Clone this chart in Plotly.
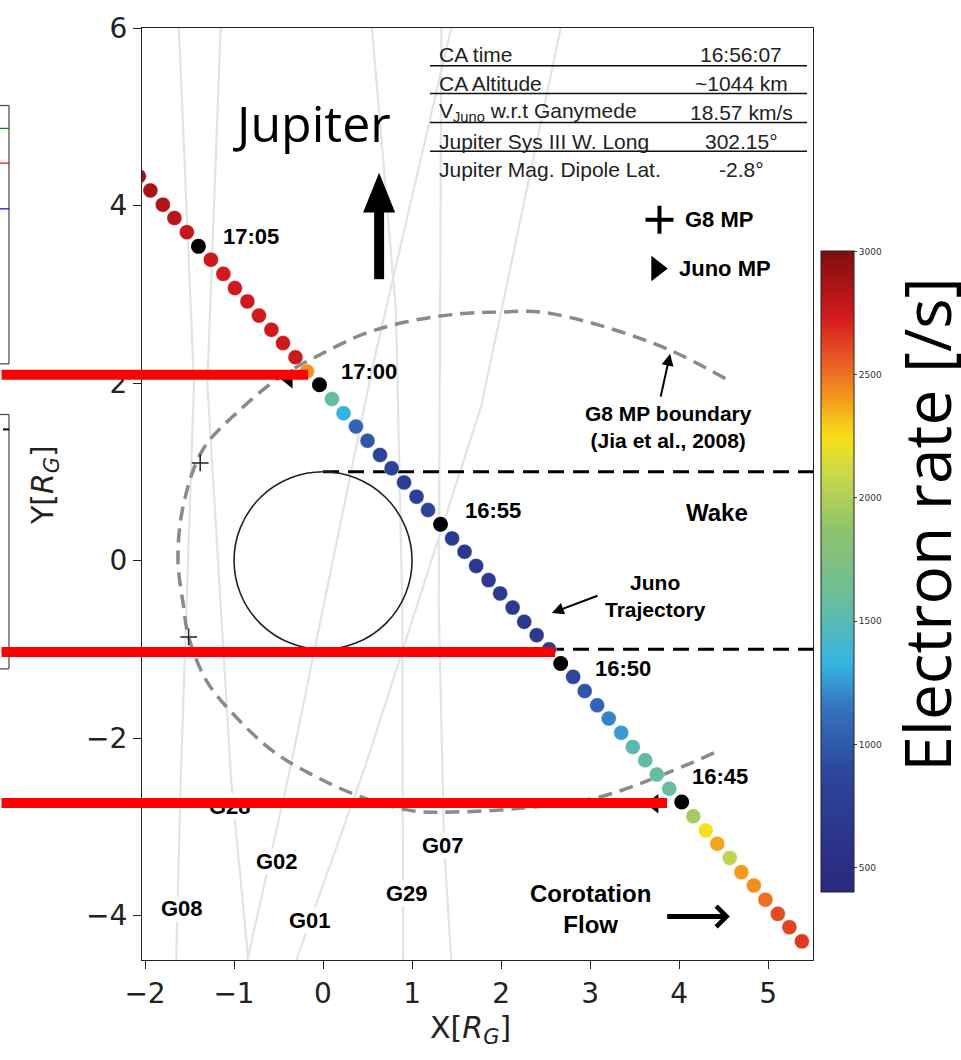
import plotly.graph_objects as go

# ---------------- data ----------------
# Juno trajectory, 30 s cadence, 16:40:00 -> 17:07:30
traj_x = [5.38, 5.24, 5.11, 4.97, 4.84, 4.70, 4.57, 4.43, 4.30, 4.16,
          4.03, 3.89, 3.75, 3.62, 3.48, 3.35, 3.21, 3.08, 2.94, 2.81,
          2.67, 2.54, 2.40, 2.26, 2.13, 1.99, 1.86, 1.72, 1.59, 1.45,
          1.32, 1.18, 1.05, 0.91, 0.77, 0.64, 0.50, 0.37, 0.23, 0.10,
          -0.04, -0.18, -0.31, -0.45, -0.58, -0.72, -0.85, -0.99, -1.12, -1.26,
          -1.40, -1.53, -1.67, -1.80, -1.94, -2.07]
traj_y = [-4.29, -4.13, -3.98, -3.82, -3.66, -3.51, -3.35, -3.19, -3.04, -2.88,
          -2.72, -2.57, -2.41, -2.25, -2.10, -1.94, -1.78, -1.63, -1.47, -1.31,
          -1.16, -1.00, -0.84, -0.69, -0.53, -0.37, -0.22, -0.06, 0.10, 0.25,
          0.41, 0.57, 0.72, 0.88, 1.04, 1.19, 1.35, 1.51, 1.66, 1.82,
          1.98, 2.13, 2.29, 2.45, 2.60, 2.76, 2.92, 3.07, 3.23, 3.39,
          3.54, 3.70, 3.86, 4.01, 4.17, 4.33]
electron_rate = [2650, 2620, 2600, 2500, 2430, 2400, 2060, 2380, 2230, 1960,
                 None, 1580, 1560, 1550, 1500, 1260, 1200, 1060, 980, 880,
                 None, 760, 720, 700, 700, 690, 700, 680, 670, 700,
                 None, 850, 780, 740, 790, 830, 980, 1060, 1330, 1560,
                 None, 2420, 2760, 2760, 2750, 2740, 2760, 2750, 2740, 2760,
                 None, 2780, 2820, 2850, 2870, 2900]
time_mark_idx = [10, 20, 30, 40, 50]
time_mark_labels = ["16:45", "16:50", "16:55", "17:00", "17:05"]
time_label_x = [4.12, 3.03, 1.57, 0.18, -1.15]
time_label_y = [-2.43, -1.22, 0.56, 2.13, 3.65]

# G8 magnetopause boundary (Jia et al., 2008)
mp_x = [4.52, 3.90, 3.11, 2.44, 1.99, 1.54, 0.94, 0.45, -0.07, -0.48, -0.93, -1.35,
        -1.57, -1.63, -1.57, -1.51, -1.30, -0.97, -0.56, -0.07, 0.45, 1.01, 1.57,
        2.33, 3.08, 3.75, 4.43]
mp_y = [2.05, 2.37, 2.65, 2.80, 2.80, 2.78, 2.69, 2.55, 2.30, 2.07, 1.70, 1.25,
        0.62, 0.02, -0.50, -0.86, -1.37, -1.77, -2.15, -2.44, -2.67, -2.82, -2.83,
        -2.78, -2.67, -2.44, -2.15]
g8_mp_x = [-1.38, -1.51]
g8_mp_y = [1.10, -0.86]
juno_mp_x = [-0.39, 3.72]
juno_mp_y = [2.05, -2.74]

# Galileo flyby tracks
flyby_names = ["G08", "G28", "G02", "G01", "G29", "G07"]
flyby_x = [[-1.62, -1.45, -1.60, -1.65],
           [-1.15, -1.30, -1.03, -0.84],
           [1.44, 0.56, -0.36, -0.85],
           [2.67, 1.78, 0.48, -0.30],
           [0.55, 0.82, 0.89, 0.90],
           [1.33, 1.30, 1.36, 1.44]]
flyby_y = [[6.0, 2.0, -2.5, -4.5],
           [6.0, 2.0, -2.5, -4.5],
           [6.0, 2.2, -2.3, -4.5],
           [6.0, 1.75, -2.3, -4.5],
           [6.0, 2.8, -0.5, -4.5],
           [6.0, -0.5, -3.2, -4.5]]
flyby_label_x = [-1.58, -1.045, -0.52, -0.15, 0.94, 1.35]
flyby_label_y = [-3.92, -2.77, -3.39, -4.05, -3.75, -3.21]

wake_y = [1.0, -1.0]
wake_x = [0.0, 5.6]

table_labels = ["CA time", "CA Altitude", "V<sub>Juno</sub> w.r.t Ganymede",
                "Jupiter Sys III W. Long", "Jupiter Mag. Dipole Lat."]
table_values = ["16:56:07", "~1044 km", "18.57 km/s", "302.15°", "-2.8°"]

x_ticks = [-2, -1, 0, 1, 2, 3, 4, 5]
y_ticks = [-4, -2, 0, 2, 4, 6]
cbar_ticks = [500, 1000, 1500, 2000, 2500, 3000]

colorscale = [[0.0, "#2a2a7e"], [0.077, "#2b3388"], [0.19, "#2c479c"],
              [0.29, "#3476c0"], [0.358, "#35b4e0"], [0.46, "#6cbd9a"],
              [0.565, "#8fc36a"], [0.654, "#cad948"], [0.71, "#f8e017"],
              [0.77, "#f39a1e"], [0.83, "#e85a26"], [0.896, "#d51a1e"],
              [1.0, "#7d0f0f"]]

# ---------------- layout geometry ----------------
W, H = 961, 1060
L, R, T, B = 142, 813, 22, 960
PW, PH = R - L, B - T


def pxp(xp, yp):
    return (xp - L) / PW, (B - yp) / PH


BOLD = "Liberation Sans, Arial, sans-serif"
SEGOE = "Open Sans, Noto Sans, sans-serif"
DV = "DejaVu Sans, sans-serif"

fig = go.Figure()

for fx, fy in zip(flyby_x, flyby_y):
    fig.add_trace(go.Scatter(x=fx, y=fy, mode="lines",
                             line=dict(color="#e3e3e3", width=2.2),
                             hoverinfo="skip", showlegend=False))

fig.add_trace(go.Scatter(x=mp_x, y=mp_y, mode="lines",
                         line=dict(color="#8a8a8a", width=3.5, dash="14px,8px", shape="spline"),
                         showlegend=False))

for wy in wake_y:
    fig.add_trace(go.Scatter(x=wake_x, y=[wy, wy], mode="lines",
                             line=dict(color="black", width=3, dash="16px,9px"),
                             showlegend=False))

cx = [x for x, r in zip(traj_x, electron_rate) if r is not None]
cy = [y for y, r in zip(traj_y, electron_rate) if r is not None]
cr = [r for r in electron_rate if r is not None]
fig.add_trace(go.Scatter(
    x=cx, y=cy, mode="markers", showlegend=False,
    marker=dict(size=15, color=cr, colorscale=colorscale, cmin=400, cmax=3000,
                line=dict(color="rgba(255,255,255,0.5)", width=0.8),
                showscale=True,
                colorbar=dict(x=pxp(821, 0)[0], xanchor="left", xpad=0, ypad=0,
                              y=pxp(0, 892)[1], yanchor="bottom",
                              len=(892 - 247) / PH, lenmode="fraction",
                              thickness=33, outlinecolor="#222", outlinewidth=1,
                              tickvals=cbar_ticks, ticks="outside", ticklen=3,
                              tickcolor="#444",
                              tickfont=dict(size=9, color="#333", family=DV)))))

fig.add_trace(go.Scatter(x=[traj_x[i] for i in time_mark_idx],
                         y=[traj_y[i] for i in time_mark_idx],
                         mode="markers", marker=dict(size=15, color="black"),
                         showlegend=False))

fig.add_trace(go.Scatter(x=g8_mp_x, y=g8_mp_y, mode="markers",
                         marker=dict(symbol="cross-thin", size=12,
                                     line=dict(color="#222", width=1.5)),
                         showlegend=False))
fig.add_trace(go.Scatter(x=juno_mp_x, y=juno_mp_y, mode="markers",
                         marker=dict(symbol="triangle-left", size=17, color="black"),
                         showlegend=False))

# key symbols
fig.add_trace(go.Scatter(x=[3.78], y=[3.84], mode="markers",
                         marker=dict(symbol="cross-thin", size=20,
                                     line=dict(color="black", width=4)),
                         showlegend=False))
fig.add_trace(go.Scatter(x=[3.75], y=[3.29], mode="markers",
                         marker=dict(symbol="triangle-right", size=22, color="black"),
                         showlegend=False))

shapes = []
# Ganymede
shapes.append(dict(type="circle", xref="x", yref="y", x0=-1, y0=-1, x1=1, y1=1,
                   line=dict(color="#222", width=1.6)))
# Jupiter arrow
shapes.append(dict(type="line", xref="x", yref="y", x0=0.63, x1=0.63, y0=3.17, y1=3.96,
                   line=dict(color="black", width=10)))
shapes.append(dict(type="path", xref="x", yref="y",
                   path="M 0.45,3.92 L 0.81,3.92 L 0.63,4.37 Z",
                   fillcolor="black", line=dict(color="black", width=0)))

# table lines
for ly in [60, 88, 117, 146]:
    x0, y0 = pxp(430, ly)
    x1, _ = pxp(807, ly)
    shapes.append(dict(type="line", xref="paper", yref="paper", x0=x0, x1=x1, y0=y0, y1=y0,
                       line=dict(color="#111", width=1.5)))


# fragments of neighbouring panels at the left edge
def seg(xa, ya, xb, yb, color, width=1.2):
    pa = pxp(xa, ya)
    pb = pxp(xb, yb)
    shapes.append(dict(type="line", xref="paper", yref="paper", x0=pa[0], y0=pa[1],
                       x1=pb[0], y1=pb[1], line=dict(color=color, width=width)))


seg(9, 100, 9, 360, "#444")
seg(0, 100, 9, 100, "#444")
seg(0, 360, 9, 360, "#444")
seg(0, 123, 9, 123, "green")
seg(0, 158, 9, 158, "red")
seg(0, 204, 9, 204, "blue")
seg(9, 411, 9, 667, "#444")
seg(0, 411, 9, 411, "#444")
seg(0, 667, 9, 667, "#444")
seg(3, 426, 9, 426, "black", 2)

annotations = []


def txt(x, y, text, size=22, font=BOLD, xanchor="center", yanchor="middle",
        xref="x", yref="y", color="black", bg=None, angle=0):
    d = dict(x=x, y=y, xref=xref, yref=yref, text=text, showarrow=False,
             xanchor=xanchor, yanchor=yanchor, textangle=angle,
             font=dict(size=size, family=font, color=color))
    if bg:
        d["bgcolor"] = bg
        d["borderpad"] = 0
    annotations.append(d)


for lab, lx, ly in zip(time_mark_labels, time_label_x, time_label_y):
    txt(lx, ly, f"<b>{lab}</b>", xanchor="left")

for name, lx, ly in zip(flyby_names, flyby_label_x, flyby_label_y):
    txt(lx, ly, f"<b>{name}</b>", bg="white")

txt(-0.124, 4.93, "Jupiter", size=50, font=SEGOE)
txt(4.04, 3.84, "<b>G8 MP</b>", xanchor="left", size=22)
txt(3.98, 3.29, "<b>Juno MP</b>", xanchor="left", size=22)
txt(3.88, 1.50, "<b>G8 MP boundary<br>(Jia et al., 2008)</b>", size=21)
txt(4.43, 0.54, "<b>Wake</b>", size=24)
txt(3.73, -0.40, "<b>Juno<br>Trajectory</b>", size=21)
txt(3.0, -3.93, "<b>Corotation<br>Flow</b>", size=24)

# arrows
annotations.append(dict(x=3.90, y=2.33, ax=3.79, ay=1.83, xref="x", yref="y",
                        axref="x", ayref="y", showarrow=True, arrowhead=2,
                        arrowsize=1.2, arrowwidth=2, arrowcolor="black", text=""))
annotations.append(dict(x=2.57, y=-0.59, ax=3.10, ay=-0.39, xref="x", yref="y",
                        axref="x", ayref="y", showarrow=True, arrowhead=2,
                        arrowsize=1.2, arrowwidth=2, arrowcolor="black", text=""))
annotations.append(dict(x=4.57, y=-4.01, ax=3.85, ay=-4.01, xref="x", yref="y",
                        axref="x", ayref="y", showarrow=True, arrowhead=4,
                        arrowsize=0.8, arrowwidth=5, arrowcolor="black", text=""))

# table text
row_y = [49, 78, 107, 136, 164]
for lab, val, ry in zip(table_labels, table_values, row_y):
    px0, py0 = pxp(437, ry)
    txt(px0, py0, lab, size=21, font="Liberation Sans, Arial, sans-serif",
        xanchor="left", xref="paper", yref="paper", color="#222")
    px1, _ = pxp(741, ry)
    txt(px1, py0, val, size=21, font="Liberation Sans, Arial, sans-serif",
        xref="paper", yref="paper", color="#222")

# axis titles and colorbar title
ax_, ay_ = pxp(470, 1030)
txt(ax_, ay_, "X[<i>R</i><sub><i>G</i></sub>]", size=30, font=DV,
    xref="paper", yref="paper", color="#222")
ax_, ay_ = pxp(44, 482)
txt(ax_, ay_, "Y[<i>R</i><sub><i>G</i></sub>]", size=30, font=DV,
    xref="paper", yref="paper", color="#222", angle=-90)
ax_, ay_ = pxp(927, 522)
txt(ax_, ay_, "Electron rate [/s]", size=64, font=SEGOE,
    xref="paper", yref="paper", angle=-90)

# red overlay lines (drawn last, on top of the labels)
for ry, rx in [(371, 308), (650, 555), (802, 667)]:
    hx, hy = pxp(rx, ry)
    annotations.append(dict(x=hx, y=hy, xref="paper", yref="paper", text="",
                            showarrow=True, arrowhead=0, arrowwidth=10,
                            arrowcolor="#ff0000", ax=-(rx + 6), ay=0,
                            standoff=0, startstandoff=0))

fig.update_layout(
    width=W, height=H,
    margin=dict(l=L, r=W - R, t=T, b=H - B),
    paper_bgcolor="white", plot_bgcolor="white",
    showlegend=False,
    shapes=shapes, annotations=annotations,
    xaxis=dict(range=[-2.034, 5.505], tickvals=x_ticks, showgrid=False, zeroline=False,
               showline=True, mirror=True, linecolor="#222", linewidth=1.2,
               ticks="outside", ticklen=8, tickwidth=1.2, tickcolor="#222",
               tickfont=dict(size=28, family=DV, color="#222")),
    yaxis=dict(range=[-4.5, 6.0], tickvals=y_ticks, showgrid=False, zeroline=False,
               showline=True, mirror=True, linecolor="#222", linewidth=1.2,
               ticks="outside", ticklen=8, tickwidth=1.2, tickcolor="#222",
               tickfont=dict(size=28, family=DV, color="#222")),
)

fig.write_html("out.html")
